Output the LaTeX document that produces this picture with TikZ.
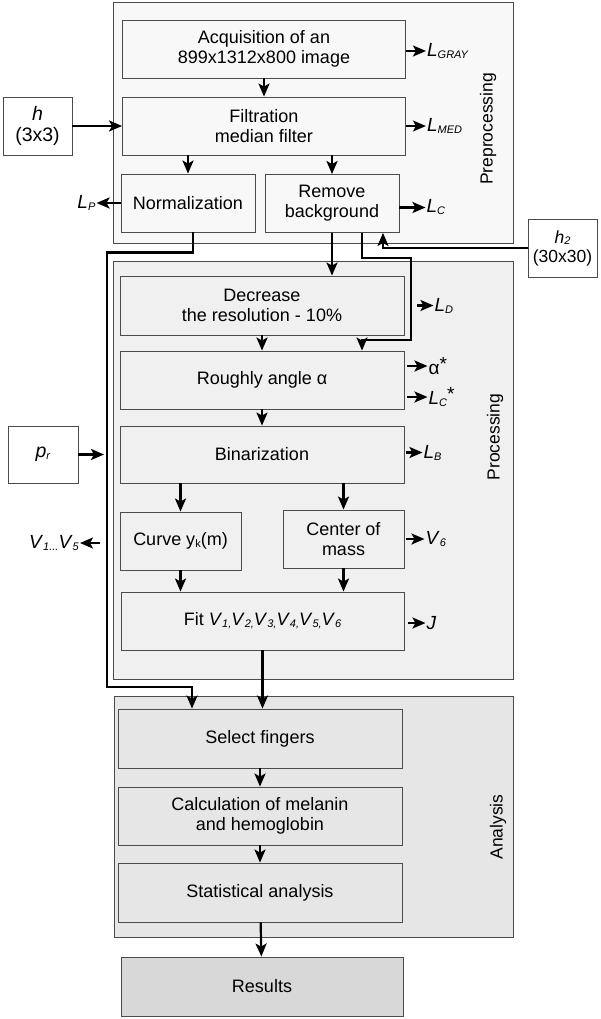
\documentclass[tikz,border=0pt]{standalone}
\usepackage{fontspec}
\setmainfont{Liberation Sans}
\usetikzlibrary{arrows.meta, positioning, calc}

\definecolor{prefill}{RGB}{248,248,248}
\definecolor{procfill}{RGB}{240,240,240}
\definecolor{anafill}{RGB}{230,230,230}
\definecolor{resfill}{RGB}{216,216,216}
\definecolor{edge}{RGB}{75,75,75}

% small index, as in L_GRAY
\newcommand{\sbx}[1]{\raisebox{-0.2ex}{\fontsize{11}{11}\selectfont #1}}
\newcommand{\outv}[2]{\textit{#1}\sbx{\textit{#2}}}

\begin{document}
\begin{tikzpicture}[x=1pt, y=-1pt,
		every node/.style={font=\fontsize{18}{20}\selectfont},
		box/.style={draw=edge, line width=0.9pt, rectangle, align=center, minimum width=283pt, minimum height=58pt, inner sep=2pt},
		smallbox/.style={box, minimum width=134pt},
		halfbox/.style={box, minimum width=121pt},
		inbox/.style={box, minimum width=69pt, fill=white},
		group/.style={draw=edge, line width=1pt, rectangle, minimum width=400pt},
		side/.style={rotate=90, font=\fontsize{17.5}{19}\selectfont},
		lab/.style={inner sep=1pt, font=\fontsize{19}{21}\selectfont},
		arrow/.style={-{Stealth[length=13pt, width=11pt, inset=3pt]}, line width=2.2pt}
		]
		
		\fill[white] (0,0) rectangle (600,1019);
		\useasboundingbox (0,0) rectangle (600,1019);
		
		% === GROUPS ===
		\node[group, fill=prefill, minimum height=240pt] (pre) at (313,123) {};
		\node[group, fill=procfill, minimum height=418pt] (proc) at (313,470) {};
		\node[group, fill=anafill, minimum width=399pt, minimum height=241pt] (ana) at (313.5,816.5) {};
		
		\node[side] (pretitle) at (488,129) {Preprocessing};
		\node[side] (proctitle) at (495,437) {Processing};
		\node[side] (anatitle) at (498,827) {Analysis};
		
		% === PREPROCESSING ===
		\node[box, fill=prefill] (acq) at (264,49) {Acquisition of an\\899x1312x800 image};
		\node[box, fill=prefill] (filt) at (264,126) {Filtration\\median filter};
		\node[smallbox, fill=prefill] (norm) at (188,203) {Normalization};
		\node[smallbox, fill=prefill] (rembg) at (332,203.5) {Remove\\background};
		
		\node[inbox, font=\fontsize{19.5}{21}\selectfont] (h) at (37.5,126) {\textit{h}\\(3x3)};
		\node[inbox, font=\fontsize{17.5}{19}\selectfont] (htwo) at (562.5,248) {\outv{h}{2}\\(30x30)};
		
		% === PROCESSING ===
		\node[box, fill=procfill, minimum width=284pt, minimum height=59pt] (dec) at (262,305.5) {Decrease\\the resolution - 10\%};
		\node[box, fill=procfill, minimum width=284pt] (rough) at (262,380) {Roughly angle α};
		\node[box, fill=procfill, minimum width=284pt, minimum height=57pt] (bin) at (262,454.5) {Binarization};
		\node[halfbox, fill=procfill] (curve) at (180.5,541) {Curve y\sbx{k}(m)};
		\node[halfbox, fill=procfill] (com) at (343.5,539) {Center of\\mass};
		\node[box, fill=procfill] (fit) at (262.5,621) {Fit \outv{V}{1,}\outv{V}{2,}\outv{V}{3,}\outv{V}{4,}\outv{V}{5,}\outv{V}{6}};
		
		\node[inbox, minimum width=70pt, minimum height=57pt, font=\fontsize{19.5}{21}\selectfont] (pr) at (43,454.5) {\outv{p}{r}};
		
		% === ANALYSIS ===
		\node[box, fill=anafill, minimum width=284pt, minimum height=59pt] (sel) at (260,738.5) {Select fingers};
		\node[box, fill=anafill, minimum width=284pt] (calc) at (260,816) {Calculation of melanin\\and hemoglobin};
		\node[box, fill=anafill, minimum width=284pt, minimum height=59pt] (stat) at (260,892.5) {Statistical analysis};
		\node[box, fill=resfill, minimum width=282pt, minimum height=59pt] (res) at (262,986.5) {Results};
		
		% === MAIN FLOW ===
		\draw[arrow] (h) -- (filt);
		\draw[arrow] (acq) -- (filt);
		\draw[arrow] (filt.south -| norm) -- (norm);
		\draw[arrow] (filt.south -| rembg) -- (rembg);
		\draw[arrow] (htwo.west) -| ([xshift=51pt]rembg.south);
		\draw[arrow] (rembg.south) -- (rembg.south |- dec.north);
		\draw[arrow] ([xshift=30pt]rembg.south) -- ++(0,25) -- ++(49,0) -- ++(0,82) -- ++(-49,0) -- ([xshift=100pt]rough.north);
		\draw[arrow] (dec) -- (rough);
		\draw[arrow] (rough) -- (bin);
		\draw[arrow] (bin.south -| curve) -- (curve);
		\draw[arrow] (bin.south -| com) -- (com);
		\draw[arrow] (curve.south) -- (curve.south |- fit.north);
		\draw[arrow] (com.south) -- (com.south |- fit.north);
		\draw[arrow] (fit.south) -- (fit.south |- sel.north);
		\draw[arrow] (sel) -- (calc);
		\draw[arrow] (calc) -- (stat);
		\draw[arrow] (stat) -- (res);
		
		% normalization goes round to the analysis
		\coordinate (bus) at (107,687);
		\draw[arrow] ([xshift=5pt]norm.south) -- ++(0,20) -| (bus) -| ([xshift=-68pt]sel.north);
		\draw[arrow, shorten >=3pt] (pr) -- (pr -| bus);
		
		% === OUTPUTS ===
		\node[lab, right=20pt of acq, yshift=-2pt] (lgray) {\outv{L}{GRAY}};
		\draw[arrow] (acq.east |- lgray) -- (lgray);
		\node[lab, right=20pt of filt] (lmed) {\outv{L}{MED}};
		\draw[arrow] (filt.east |- lmed) -- (lmed);
		\node[lab, left=24pt of norm] (lp) {\outv{L}{P}};
		\draw[arrow] (norm.west |- lp) -- (lp);
		\node[lab, right=26pt of rembg, yshift=-4pt] (lc) {\outv{L}{C}};
		\draw[arrow] (rembg.east |- lc) -- (lc);
		
		\node[lab, right=29pt of dec] (ld) {\outv{L}{D}};
		\draw[arrow] ([xshift=13pt]dec.east |- ld) -- (ld);
		\node[lab, right=23pt of rough, yshift=14pt] (alpha) {α\raisebox{0.35ex}{*}};
		\draw[arrow] ([xshift=3pt]rough.east |- alpha) -- (alpha);
		\node[lab, right=23pt of rough, yshift=-17pt] (lcs) {\outv{L}{C}\raisebox{0.35ex}{*}};
		\draw[arrow] ([xshift=3pt]rough.east |- lcs) -- (lcs);
		\node[lab, right=18pt of bin, yshift=2pt] (lb) {\outv{L}{B}};
		\draw[arrow] ([xshift=2pt]bin.east |- lb) -- (lb);
		\node[lab, right=20pt of com] (vsix) {\outv{V}{6}};
		\draw[arrow] ([xshift=2pt]com.east |- vsix) -- (vsix);
		\node[lab, right=21pt of fit, yshift=-2pt] (jout) {\textit{J}};
		\draw[arrow] ([xshift=4pt]fit.east |- jout) -- (jout);
		
		\coordinate (vtap) at (100,543);
		\node[lab, left=20pt of vtap] (vout) {\outv{V}{1...}\outv{V}{5}};
		\draw[arrow] (vtap) -- (vout);
		
	\end{tikzpicture}
\end{document}
